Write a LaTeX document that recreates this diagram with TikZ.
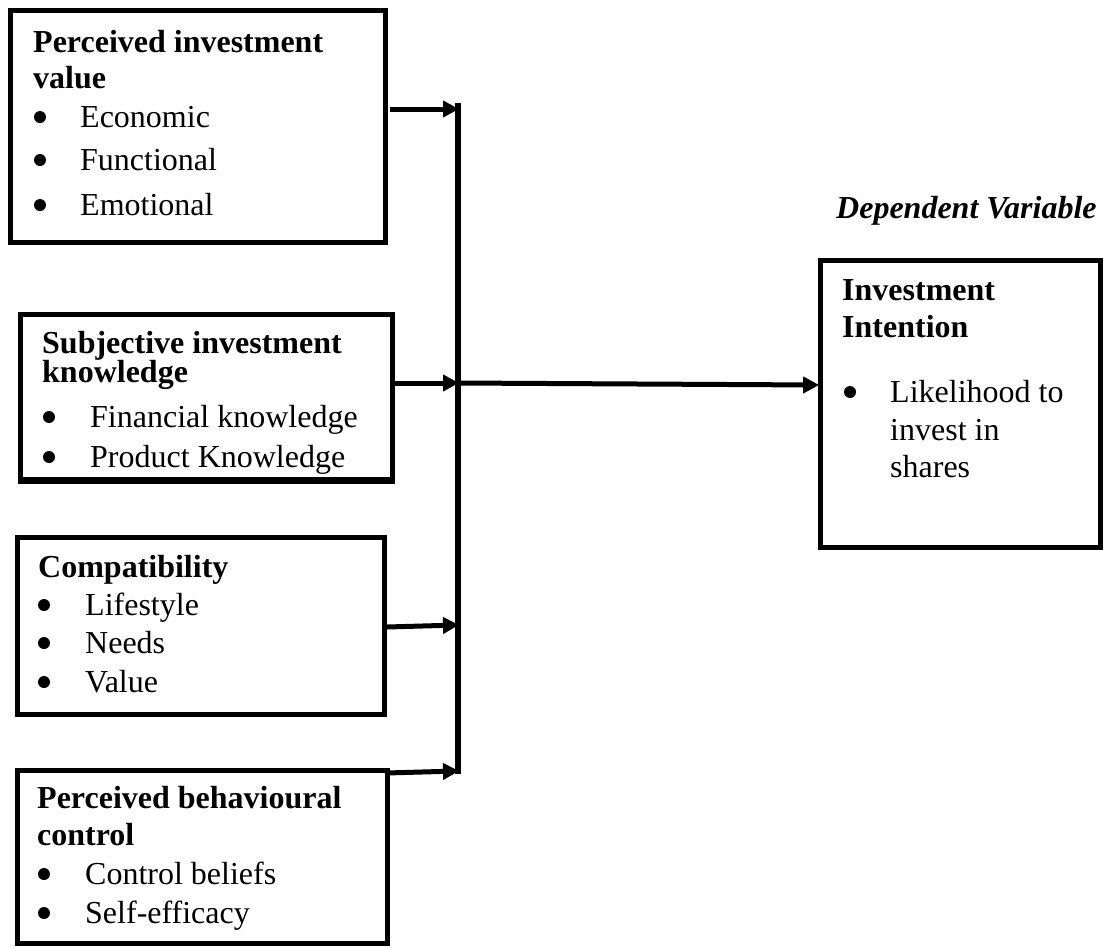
\documentclass[tikz,border=0pt]{standalone}
\usepackage{fontspec}
\setmainfont{Liberation Serif}
\usetikzlibrary{arrows.meta}
\tikzset{
  box/.style={draw, line width=4.6pt, rectangle, inner sep=0pt},
  txt/.style={anchor=base west, inner sep=0pt, font=\fontsize{32}{38}\selectfont},
  hd/.style={txt, font=\fontsize{32}{38}\selectfont\bfseries},
  bul/.style={circle, fill, inner sep=0pt, minimum size=12pt, yshift=10pt},
  conn/.style={line width=5.5pt},
  arr/.style={line width=5pt, -{Triangle[length=16pt,width=16pt]}, shorten >=-1pt}
}
\begin{document}
\begin{tikzpicture}[x=1pt,y=-1pt]
\useasboundingbox (0,0) rectangle (1109,948);

% boxes
\node[box, minimum width=375pt, minimum height=232pt] (b1) at (198,126.5) {};
\node[box, minimum width=372pt, minimum height=165pt] (b2) at (206.5,397) {};
\node[box, minimum width=367pt, minimum height=177pt] (b3) at (201,626) {};
\node[box, minimum width=370pt, minimum height=173pt] (b4) at (202.5,857) {};
\node[box, minimum width=280pt, minimum height=287pt] (b5) at (960.5,404) {};

% box 1 text
\node[hd] (t11) at (33,52) {Perceived investment};
\node[hd] (t12) at (33,88) {value};
\node[bul] (u11) at (40,127) {};
\node[txt] (t13) at (80,127) {Economic};
\node[bul] (u12) at (40,170) {};
\node[txt] (t14) at (80,170) {Functional};
\node[bul] (u13) at (40,215) {};
\node[txt] (t15) at (80,215) {Emotional};

% box 2 text (clipped at the bottom border)
\begin{scope}
\clip (20,314) rectangle (393,480);
\node[hd] (t21) at (42,353) {Subjective investment};
\node[hd] (t22) at (42,382) {knowledge};
\node[bul] (u21) at (49,427) {};
\node[txt] (t23) at (90,427) {Financial knowledge};
\node[bul] (u22) at (49,467) {};
\node[txt] (t24) at (90,467) {Product Knowledge};
\end{scope}
\draw[line width=4.6pt] (b2.south west) -- (b2.south east);

% box 3 text
\node[hd] (t31) at (38,577) {Compatibility};
\node[bul] (u31) at (44,615) {};
\node[txt] (t32) at (85,615) {Lifestyle};
\node[bul] (u32) at (44,653) {};
\node[txt] (t33) at (85,653) {Needs};
\node[bul] (u33) at (44,692) {};
\node[txt] (t34) at (85,692) {Value};

% box 4 text
\node[hd] (t41) at (37,808) {Perceived behavioural};
\node[hd] (t42) at (37,845) {control};
\node[bul] (u41) at (44,884) {};
\node[txt] (t43) at (85,884) {Control beliefs};
\node[bul] (u42) at (44,923) {};
\node[txt] (t44) at (85,923) {Self-efficacy};

% box 5 text
\node[hd] (t51) at (842,300) {Investment};
\node[hd] (t52) at (842,337) {Intention};
\node[bul] (u51) at (850,402) {};
\node[txt] (t53) at (890,402) {Likelihood to};
\node[txt] (t54) at (890,440) {invest in};
\node[txt] (t55) at (890,477) {shares};

% heading
\node[txt, font=\fontsize{32}{38}\selectfont\bfseries\itshape] (dv) at (836,218) {Dependent Variable};

% connectors
\coordinate (top) at (458,103);
\coordinate (bot) at (458,774);
\coordinate (j1) at (458,109);
\coordinate (j2) at (458,383);
\coordinate (j3) at (458,625);
\coordinate (j4) at (458,771);
\coordinate (s1) at (390,109);
\coordinate (s2) at (395,383);
\coordinate (s3) at (387,627);
\coordinate (s4) at (386,773);
\coordinate (e5) at (b5.west |- j2);

\draw[conn] (top) -- (bot);
\draw[arr] (s1) -- (j1);
\draw[arr] (s2) -- (j2);
\draw[arr] (s3) -- (j3);
\draw[arr] (s4) -- (j4);
\draw[arr] (j2) -- ([yshift=-2pt]e5);
\end{tikzpicture}
\end{document}
